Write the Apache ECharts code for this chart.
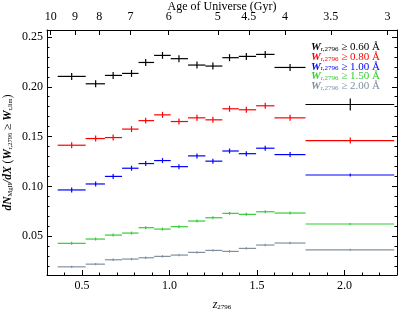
<!DOCTYPE html>
<html><head><meta charset="utf-8">
<script src="https://cdn.jsdelivr.net/npm/echarts@6/dist/echarts.min.js"></script>
<style>html,body{margin:0;padding:0;background:#fff}#c{width:407px;height:309px}</style>
</head><body><div id="c"></div>
<script>
// bin edges and representative redshifts
const binLo = [0.361,0.521,0.631,0.729,0.823,0.912,1.007,1.106,1.205,1.302,1.396,1.495,1.600,1.777];
const binHi = [0.521,0.631,0.729,0.823,0.912,1.007,1.106,1.205,1.302,1.396,1.495,1.600,1.777,2.284];
const zMean = [0.441,0.578,0.678,0.783,0.864,0.960,1.054,1.157,1.248,1.343,1.439,1.547,1.689,2.033];
// dN/dX values
const w060 = [0.2104,0.2030,0.2114,0.2134,0.2244,0.2315,0.2282,0.2218,0.2208,0.2292,0.2305,0.2325,0.2194,0.1822];
const w080 = [0.1413,0.1480,0.1490,0.1575,0.1660,0.1718,0.1651,0.1688,0.1668,0.1779,0.1769,0.1809,0.1688,0.1460];
const w100 = [0.0964,0.1024,0.1100,0.1182,0.1229,0.1259,0.1198,0.1306,0.1253,0.1355,0.1328,0.1383,0.1319,0.1114];
const w150 = [0.0428,0.0471,0.0511,0.0531,0.0585,0.0571,0.0595,0.0652,0.0685,0.0729,0.0719,0.0745,0.0732,0.0622];
const w200 = [0.0192,0.0219,0.0263,0.0270,0.0283,0.0297,0.0310,0.0337,0.0357,0.0347,0.0377,0.0411,0.0431,0.0363];
// errors
const e060 = [0.0035,0.0035,0.0035,0.0035,0.0035,0.0035,0.0035,0.0035,0.0035,0.0035,0.0035,0.0035,0.0035,0.0060];
const e080 = [0.0030,0.0030,0.0030,0.0030,0.0030,0.0030,0.0030,0.0030,0.0030,0.0030,0.0030,0.0030,0.0030,0.0030];
const e100 = [0.0025,0.0025,0.0025,0.0025,0.0025,0.0025,0.0025,0.0025,0.0025,0.0025,0.0025,0.0025,0.0025,0.0015];
const e150 = [0.0015,0.0015,0.0015,0.0015,0.0015,0.0015,0.0015,0.0015,0.0015,0.0015,0.0015,0.0015,0.0015,0.0010];
const e200 = [0.0012,0.0012,0.0012,0.0012,0.0012,0.0012,0.0012,0.0012,0.0012,0.0012,0.0012,0.0012,0.0012,0.0010];
const thresholds = ['0.60','0.80','1.00','1.50','2.00'];
const colors = ['#000000','#ff0000','#0000ff','#33cc33','#8090a0'];
// ticks
const xMajor = [0.5,1.0,1.5,2.0];
const xMinor = [0.3,0.4,0.6,0.7,0.8,0.9,1.1,1.2,1.3,1.4,1.6,1.7,1.8,1.9,2.1,2.2];
const yMajor = [0.05,0.10,0.15,0.20,0.25];
const yMinor = [0.02,0.03,0.04,0.06,0.07,0.08,0.09,0.11,0.12,0.13,0.14,0.16,0.17,0.18,0.19,0.21,0.22,0.23,0.24];
const ageLabels = ['10','9','8','7','6','5','4.5','4','3.5','3'];
const ageZ = [0.321,0.460,0.598,0.777,0.995,1.276,1.453,1.660,1.922,2.245];

const FONT = '"Liberation Serif", "Times New Roman", serif';
const vals = [w060,w080,w100,w150,w200];
const errs = [e060,e080,e100,e150,e200];
const names = thresholds.map(t => 'W' + t);

const chart = echarts.init(document.getElementById('c'), null, {renderer:'canvas'});

function renderItem(params, api){
  const lo = api.coord([api.value(0), api.value(3)]);
  const hi = api.coord([api.value(1), api.value(3)]);
  const top = api.coord([api.value(2), api.value(3) + api.value(4)]);
  const bot = api.coord([api.value(2), api.value(3) - api.value(4)]);
  const st = {stroke: api.visual('color'), lineWidth: 1.2};
  return {type:'group', children:[
    {type:'line', shape:{x1:lo[0],y1:lo[1],x2:hi[0],y2:hi[1]}, style:st},
    {type:'line', shape:{x1:top[0],y1:top[1],x2:bot[0],y2:bot[1]}, style:st}
  ]};
}

const series = vals.map((v,k) => ({
  type:'custom', name:names[k], renderItem, clip:true,
  xAxisIndex:0, yAxisIndex:0,
  itemStyle:{color:colors[k]},
  encode:{x:[0,1,2], y:[3]},
  data: v.map((y,i) => [binLo[i], binHi[i], zMean[i], y, errs[k][i]])
}));

const legendRich = {};
colors.forEach((c,i) => {
  legendRich['w'+i] = {color:c, fontFamily:FONT, fontSize:11, fontWeight:'bold', fontStyle:'italic', lineHeight:10};
  legendRich['s'+i] = {color:c, fontFamily:FONT, fontSize:7, lineHeight:6, verticalAlign:'bottom'};
  legendRich['t'+i] = {color:c, fontFamily:FONT, fontSize:11, lineHeight:10};
});

const axisLineStyle = {show:true, lineStyle:{color:'#000', width:1}};
const yMin = 0.011, yMax = 0.257, xMin = 0.3, xMax = 2.3;

chart.setOption({
  animation:false,
  textStyle:{fontFamily:FONT},
  grid:{left:47, right:10, top:30, bottom:34, containLabel:false, outerBoundsMode:'none'},
  legend:{
    orient:'vertical', right:22, top:37, icon:'none', itemWidth:0, itemHeight:8, itemGap:-1.3,
    selectedMode:false,
    data:names,
    formatter: n => { const i = names.indexOf(n); return `{w${i}|W}{s${i}|r,2796}{t${i}| ≥ ${thresholds[i]} Å}`; },
    textStyle:{rich:legendRich, fontFamily:FONT}
  },
  xAxis:[
    {type:'value', position:'bottom', min:xMin, max:xMax, splitLine:{show:false},
     axisLine:axisLineStyle,
     axisTick:{inside:true, length:5, customValues:xMajor, lineStyle:{color:'#000'}},
     axisLabel:{customValues:xMajor, formatter:v=>v.toFixed(1), color:'#000', fontFamily:FONT, fontSize:12, margin:5},
     name:'{z|z}{s|2796}', nameLocation:'middle', nameGap:24, nameMoveOverlap:false,
     nameTextStyle:{rich:{z:{fontFamily:FONT, fontSize:12, fontStyle:'italic', color:'#000', lineHeight:12},
                         s:{fontFamily:FONT, fontSize:7, color:'#000', lineHeight:7, verticalAlign:'bottom'}}}},
    {type:'value', position:'bottom', min:xMin, max:xMax, splitLine:{show:false},
     axisLine:{show:false},
     axisTick:{inside:true, length:2.5, customValues:xMinor, lineStyle:{color:'#000'}},
     axisLabel:{show:false}},
    {type:'value', position:'top', min:xMin, max:xMax, splitLine:{show:false},
     axisLine:axisLineStyle,
     axisTick:{inside:true, length:5, customValues:ageZ, lineStyle:{color:'#000'}},
     axisLabel:{customValues:ageZ, color:'#000', fontFamily:FONT, fontSize:12, margin:7,
       formatter:v=>{let b=0;ageZ.forEach((z,i)=>{if(Math.abs(z-v)<Math.abs(ageZ[b]-v))b=i;});return ageLabels[b];}},
     name:'Age of Universe (Gyr)', nameLocation:'middle', nameGap:17, nameMoveOverlap:false,
     nameTextStyle:{fontFamily:FONT, fontSize:12, color:'#000'}}
  ],
  yAxis:[
    {type:'value', position:'left', min:yMin, max:yMax, splitLine:{show:false},
     axisLine:axisLineStyle,
     axisTick:{inside:true, length:5, customValues:yMajor, lineStyle:{color:'#000'}},
     axisLabel:{customValues:yMajor, formatter:v=>v.toFixed(2), color:'#000', fontFamily:FONT, fontSize:12, margin:4},
     name:'{b|dN}{s|MgII}{b|/dX} {n|(}{b|W}{s|r,2796}{n| ≥ }{b|W}{s|r,lim}{n|)}',
     nameLocation:'middle', nameGap:33, nameMoveOverlap:false,
     nameTextStyle:{rich:{
       b:{fontFamily:FONT, fontSize:11.5, fontWeight:'bold', fontStyle:'italic', color:'#000', lineHeight:12},
       n:{fontFamily:FONT, fontSize:11.5, color:'#000', lineHeight:12},
       s:{fontFamily:FONT, fontSize:6.5, color:'#000', lineHeight:7, verticalAlign:'bottom'}}}},
    {type:'value', position:'left', min:yMin, max:yMax, splitLine:{show:false},
     axisLine:{show:false},
     axisTick:{inside:true, length:2.5, customValues:yMinor, lineStyle:{color:'#000'}},
     axisLabel:{show:false}},
    {type:'value', position:'right', min:yMin, max:yMax, splitLine:{show:false},
     axisLine:axisLineStyle,
     axisTick:{inside:true, length:5, customValues:yMajor, lineStyle:{color:'#000'}},
     axisLabel:{show:false}},
    {type:'value', position:'right', min:yMin, max:yMax, splitLine:{show:false},
     axisLine:{show:false},
     axisTick:{inside:true, length:2.5, customValues:yMinor, lineStyle:{color:'#000'}},
     axisLabel:{show:false}}
  ],
  series
});
</script></body></html>
